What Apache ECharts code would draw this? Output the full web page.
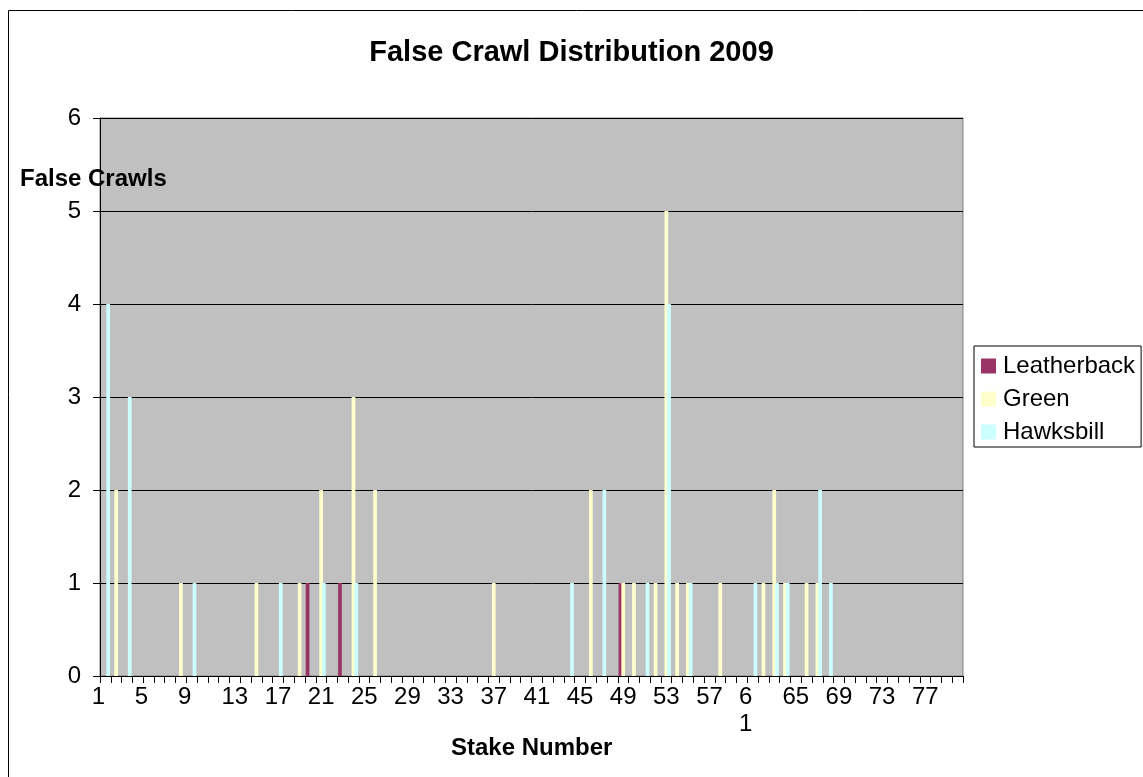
<!DOCTYPE html>
<html>
<head>
<meta charset="utf-8">
<script src="https://cdn.jsdelivr.net/npm/echarts@6/dist/echarts.min.js"></script>
<style>
  html, body { margin: 0; padding: 0; background: #fff; }
  #chart { width: 1143px; height: 777px; }
</style>
</head>
<body>
<div id="chart"></div>
<script>
// Stake numbers along the beach
const stakes = [
  '1','2','3','4','5','6','7','8','9','10',
  '11','12','13','14','15','16','17','18','19','20',
  '21','22','23','24','25','26','27','28','29','30',
  '31','32','33','34','35','36','37','38','39','40',
  '41','42','43','44','45','46','47','48','49','50',
  '51','52','53','54','55','56','57','58','59','60',
  '61','62','63','64','65','66','67','68','69','70',
  '71','72','73','74','75','76','77','78','79','80'
];

// False crawls per stake, by species
const leatherback = [
  0,0,0,0,0,0,0,0,0,0,
  0,0,0,0,0,0,0,0,0,1,
  0,0,1,0,0,0,0,0,0,0,
  0,0,0,0,0,0,0,0,0,0,
  0,0,0,0,0,0,0,0,1,0,
  0,0,0,0,0,0,0,0,0,0,
  0,0,0,0,0,0,0,0,0,0,
  0,0,0,0,0,0,0,0,0,0
];
const green = [
  0,2,0,0,0,0,0,1,0,0,
  0,0,0,0,1,0,0,0,1,0,
  2,0,0,3,0,2,0,0,0,0,
  0,0,0,0,0,0,1,0,0,0,
  0,0,0,0,0,2,0,0,1,1,
  0,1,5,1,1,0,0,1,0,0,
  0,1,2,1,0,1,1,0,0,0,
  0,0,0,0,0,0,0,0,0,0
];
const hawksbill = [
  4,0,3,0,0,0,0,0,1,0,
  0,0,0,0,0,0,1,0,0,0,
  1,0,0,1,0,0,0,0,0,0,
  0,0,0,0,0,0,0,0,0,0,
  0,0,0,1,0,0,2,0,0,0,
  1,0,4,0,1,0,0,0,0,0,
  1,0,1,1,0,0,2,1,0,0,
  0,0,0,0,0,0,0,0,0,0
];

const FONT = '"Liberation Sans", Arial, sans-serif';

const chart = echarts.init(document.getElementById('chart'), null, { renderer: 'canvas' });

function barSeries(name, data, color) {
  return {
    name: name,
    type: 'bar',
    data: data,
    barWidth: 3.7,
    barGap: '-25%',
    itemStyle: { color: color },
    emphasis: { disabled: true },
    animation: false
  };
}

// Single-digit labels sit at the left of a two-digit-wide slot;
// the label for 61 wraps onto two lines.
function stakeLabel(v) {
  if (v === '61') return '{one|6}\n{one|1}';
  return v.length === 1 ? '{one|' + v + '}' : v;
}

chart.setOption({
  animation: false,
  backgroundColor: '#ffffff',
  textStyle: { fontFamily: FONT },
  grid: {
    left: 100, right: 180, top: 118, bottom: 101,
    show: true,
    backgroundColor: '#c0c0c0',
    borderColor: '#808080',
    borderWidth: 1
  },
  legend: {
    orient: 'vertical',
    left: 974,
    top: 346,
    itemWidth: 15,
    itemHeight: 15,
    itemGap: 9,
    icon: 'rect',
    padding: [8, 6, 3, 7],
    borderColor: '#000',
    borderWidth: 1,
    backgroundColor: '#fff',
    textStyle: { fontFamily: FONT, fontSize: 24, lineHeight: 24, color: '#000', padding: [0, 0, 0, 2] },
    data: ['Leatherback', 'Green', 'Hawksbill']
  },
  xAxis: {
    type: 'category',
    data: stakes,
    boundaryGap: true,
    axisLine: { lineStyle: { color: '#000', width: 1 } },
    axisTick: { show: true, interval: 0, length: 7, lineStyle: { color: '#000' } },
    axisLabel: {
      interval: 3,
      margin: 8,
      color: '#000',
      fontFamily: FONT,
      fontSize: 24,
      lineHeight: 27,
      align: 'center',
      formatter: stakeLabel,
      rich: {
        one: {
          fontFamily: FONT,
          fontSize: 24,
          lineHeight: 27,
          color: '#000',
          padding: [0, 14, 0, 0]
        }
      }
    },
    splitLine: { show: false }
  },
  yAxis: {
    type: 'value',
    min: 0,
    max: 6,
    interval: 1,
    axisLine: { show: true, lineStyle: { color: '#000', width: 1 } },
    axisTick: { show: true, length: 7, lineStyle: { color: '#000' } },
    axisLabel: { margin: 19, color: '#000', fontFamily: FONT, fontSize: 24 },
    splitLine: { show: true, lineStyle: { color: '#000', width: 1 } }
  },
  graphic: [
    {
      type: 'rect',
      shape: { x: 8.5, y: 10.5, width: 1150, height: 800 },
      style: { fill: null, stroke: '#000', lineWidth: 1 },
      silent: true, z: -1
    },
    {
      type: 'text',
      left: 'center',
      top: 38,
      style: { text: 'False Crawl Distribution 2009', font: 'bold 29px ' + FONT, fill: '#000' },
      silent: true
    },
    {
      type: 'text',
      x: 20, y: 167,
      style: { text: 'False Crawls', font: 'bold 24px ' + FONT, fill: '#000' },
      silent: true, z: 100
    },
    {
      type: 'text',
      x: 451, y: 736,
      style: { text: 'Stake Number', font: 'bold 24px ' + FONT, fill: '#000' },
      silent: true
    }
  ],
  series: [
    barSeries('Leatherback', leatherback, '#993366'),
    barSeries('Green', green, '#ffffcc'),
    barSeries('Hawksbill', hawksbill, '#ccffff')
  ]
});
</script>
</body>
</html>
